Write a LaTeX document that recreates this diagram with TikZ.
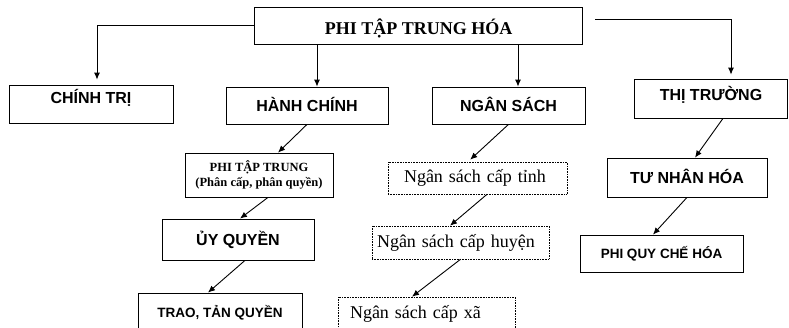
\documentclass[tikz,border=0pt]{standalone}
\usepackage{fontspec}
\setmainfont{Liberation Serif}
\setsansfont{Liberation Sans}
\usetikzlibrary{arrows.meta}

\begin{document}
\begin{tikzpicture}[x=1pt, y=-1pt,
                    line width=0.8pt,
                    >={Latex[length=7pt,width=6pt]}]
    \tikzstyle{box}=[draw, rectangle, inner sep=0pt]
    \tikzstyle{capbox}=[box, font=\sffamily\bfseries\fontsize{16}{18}\selectfont, text height=11.5pt, text depth=0pt]
    \tikzstyle{smallcap}=[capbox, font=\sffamily\bfseries\fontsize{13.5}{16}\selectfont, text height=9.7pt]
    \tikzstyle{headbox}=[box, font=\bfseries\fontsize{18}{20}\selectfont, text height=17pt, text depth=0pt]
    \tikzstyle{notebox}=[box, font=\bfseries\fontsize{12.5}{15}\selectfont, align=center]
    \tikzstyle{levelbox}=[box, line width=0.6pt, densely dotted, font=\fontsize{18}{20}\selectfont, text height=12pt, text depth=3pt, align=left, minimum height=33pt]
    \tikzstyle{link}=[->, line width=0.9pt]

    \useasboundingbox (0,0) rectangle (789,327);
    \clip (0,0) rectangle (789,327);

    \node[headbox, minimum width=328pt, minimum height=37pt] (decentral) at (418.5,25.5) {PHI TẬP TRUNG HÓA};

    \node[capbox, minimum width=164pt, minimum height=38pt, text depth=12pt] (politics) at (91,104) {CHÍNH TRỊ};
    \node[capbox, minimum width=162pt, minimum height=37pt] (admin) at (307,105.5) {HÀNH CHÍNH};
    \node[capbox, minimum width=153pt, minimum height=37pt] (budget) at (508.5,105.5) {NGÂN SÁCH};
    \node[capbox, minimum width=153pt, minimum height=39pt, text depth=8pt] (market) at (711,98.5) {THỊ TRƯỜNG};

    \node[notebox, minimum width=148pt, minimum height=44pt] (deconc) at (259,175) {PHI TẬP TRUNG\\(Phân cấp, phân quyền)};
    \node[capbox, minimum width=152pt, minimum height=41pt] (delegate) at (238,239.5) {ỦY QUYỀN};
    \node[smallcap, minimum width=164pt, minimum height=40pt] (devolve) at (220,313) {TRAO, TẢN QUYỀN};

    \node[levelbox, text width=147pt, inner xsep=16pt, minimum height=32pt] (province) at (477.5,178) {Ngân sách cấp tỉnh};
    \node[levelbox, text width=167pt, inner xsep=5pt] (district) at (460.5,242.5) {Ngân sách cấp huyện};
    \node[levelbox, text width=153pt, inner xsep=12pt] (commune) at (426.5,313.5) {Ngân sách cấp xã};

    \node[capbox, minimum width=160pt, minimum height=39pt] (privat) at (687,177.5) {TƯ NHÂN HÓA};
    \node[smallcap, minimum width=163pt, minimum height=37pt] (dereg) at (661.5,253.5) {PHI QUY CHẾ HÓA};

    \coordinate (mkt) at (595,19);

    \draw[link, shorten >=5pt] (decentral.west) -| ([xshift=6pt]politics.north);
    \draw[link] ([xshift=10pt]admin.north |- decentral.south) -- ([xshift=10pt]admin.north);
    \draw[link] ([xshift=9.5pt]budget.north |- decentral.south) -- ([xshift=9.5pt]budget.north);
    \draw[link, shorten >=4pt] (mkt) -| ([xshift=20pt]market.north);

    \draw[link] (admin.south) -- ([xshift=19pt]deconc.north);
    \draw[link] ([xshift=9pt]deconc.south) -- ([xshift=2pt]delegate.north);
    \draw[link] ([xshift=7pt]delegate.south) -- ([xshift=-12pt]devolve.north);

    \draw[link, shorten >=3pt] (budget.south) -- ([xshift=-9.5pt]province.north);
    \draw[link] ([xshift=9.5pt]province.south) -- ([xshift=-10.5pt]district.north);
    \draw[link] (district.south) -- ([xshift=-14.5pt]commune.north);

    \draw[link] ([xshift=12pt]market.south) -- ([xshift=8pt]privat.north);
    \draw[link] (privat.south) -- ([xshift=-8.5pt]dereg.north);
\end{tikzpicture}
\end{document}
